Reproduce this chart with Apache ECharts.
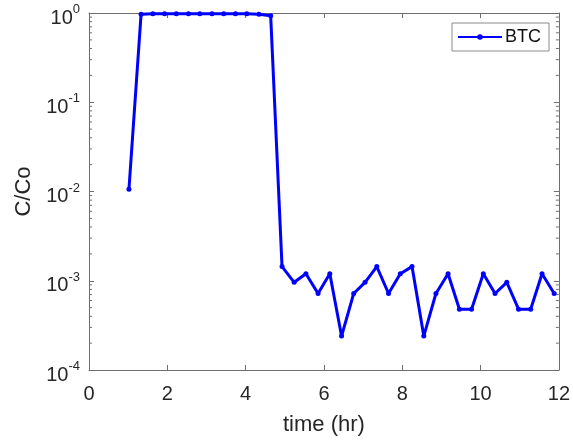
<!DOCTYPE html>
<html>
<head>
<meta charset="utf-8">
<script src="https://cdn.jsdelivr.net/npm/echarts@6/dist/echarts.min.js"></script>
<style>
html,body{margin:0;padding:0;background:#fff;}
#chart{width:573px;height:441px;}
</style>
</head>
<body>
<div id="chart"></div>
<script>
// time (hr)
var times = [1.02, 1.33, 1.63, 1.93, 2.23, 2.54, 2.83, 3.14, 3.44, 3.74, 4.03, 4.34, 4.64,
  4.93, 5.24, 5.54, 5.85, 6.15, 6.45, 6.76, 7.05, 7.35, 7.65, 7.95, 8.25, 8.55,
  8.86, 9.17, 9.46, 9.77, 10.07, 10.37, 10.67, 10.97, 11.28, 11.57, 11.88];
// C/Co
var btc = [0.0106, 0.97, 0.98, 0.98, 0.98, 0.98, 0.98, 0.98, 0.98, 0.98, 0.98, 0.97, 0.93,
  0.00144, 0.00096, 0.0012, 0.00072, 0.0012, 0.00024, 0.00072, 0.00096, 0.00144, 0.00072,
  0.0012, 0.00144, 0.00024, 0.00072, 0.0012, 0.00048, 0.00048, 0.0012, 0.00072, 0.00096,
  0.00048, 0.00048, 0.0012, 0.00072];
var seriesName = 'BTC';
var xTicks = [0, 2, 4, 6, 8, 10, 12];
var yMin = 1e-4, yMax = 1;
var minorMantissas = [2, 3, 4, 5, 6, 7, 8, 9];
var decades = [1e-4, 1e-3, 1e-2, 1e-1];

var FONT = "'Liberation Sans', Arial, Helvetica, sans-serif";
var AX = '#6e6e6e';
var TXT = '#262626';

var lineData = times.map(function (t, i) { return [t, btc[i]]; });
var minorData = [];
decades.forEach(function (d) {
  minorMantissas.forEach(function (m) { minorData.push([xTicks[0], m * d]); });
});

var chart = echarts.init(document.getElementById('chart'), null, {renderer: 'canvas'});

function supLabel(v) {
  var e = Math.round(Math.log10(v));
  return '{b|10}{s|' + e + '}';
}

var option = {
  backgroundColor: '#fff',
  animation: false,
  textStyle: {fontFamily: FONT},
  grid: {left: 89, right: 14, top: 13, bottom: 69, containLabel: false},
  legend: {
    data: [seriesName],
    right: 24, top: 23,
    orient: 'vertical',
    backgroundColor: '#fff',
    borderColor: '#8a8a8a', borderWidth: 1, borderRadius: 0,
    padding: [5, 8, 5, 5],
    itemWidth: 44, itemHeight: 7, itemGap: 0,
    textStyle: {fontFamily: FONT, fontSize: 18, color: '#111', padding: [0, 0, 0, -2]}
  },
  xAxis: [{
    type: 'value', min: 0, max: 12, interval: 2,
    name: 'time (hr)', nameLocation: 'middle', nameGap: 44,
    nameTextStyle: {fontFamily: FONT, fontSize: 22, color: TXT},
    axisLine: {show: true, onZero: false, lineStyle: {color: AX, width: 1}},
    axisTick: {show: true, inside: true, length: 5, lineStyle: {color: AX}},
    axisLabel: {fontFamily: FONT, fontSize: 20, color: TXT, margin: 14},
    splitLine: {show: false}
  }, {
    type: 'value', min: 0, max: 12, interval: 2, position: 'top',
    axisLine: {show: true, onZero: false, lineStyle: {color: AX, width: 1}},
    axisTick: {show: true, inside: true, length: 5, lineStyle: {color: AX}},
    axisLabel: {show: false},
    splitLine: {show: false}
  }],
  yAxis: [{
    type: 'log', logBase: 10, min: yMin, max: yMax,
    name: 'C/Co', nameLocation: 'middle', nameGap: 52, nameRotate: 90,
    nameTextStyle: {fontFamily: FONT, fontSize: 22, color: TXT},
    axisLine: {show: true, onZero: false, lineStyle: {color: AX, width: 1}},
    axisTick: {show: true, inside: true, length: 5, lineStyle: {color: AX}},
    axisLabel: {
      margin: 9, color: TXT,
      formatter: supLabel,
      rich: {
        b: {fontFamily: FONT, fontSize: 20, color: TXT, padding: [10, 0, 0, 0]},
        s: {fontFamily: FONT, fontSize: 13, color: TXT, padding: [0, 0, 7, 0]}
      }
    },
    splitLine: {show: false}
  }, {
    type: 'log', logBase: 10, min: yMin, max: yMax, position: 'right',
    axisLine: {show: true, onZero: false, lineStyle: {color: AX, width: 1}},
    axisTick: {show: true, inside: true, length: 5, lineStyle: {color: AX}},
    axisLabel: {show: false},
    splitLine: {show: false}
  }],
  series: [{
    type: 'custom',
    name: 'minorTicks',
    xAxisIndex: 0, yAxisIndex: 0,
    silent: true, clip: false,
    data: minorData,
    renderItem: function (params, api) {
      var v = api.value(1);
      var l = api.coord([xTicks[0], v]);
      var r = api.coord([xTicks[xTicks.length - 1], v]);
      var st = {stroke: AX, lineWidth: 1};
      return {
        type: 'group',
        children: [
          {type: 'line', shape: {x1: l[0], y1: l[1], x2: l[0] + 3, y2: l[1]}, style: st},
          {type: 'line', shape: {x1: r[0], y1: r[1], x2: r[0] - 3, y2: r[1]}, style: st}
        ]
      };
    },
    z: 1
  }, {
    type: 'line',
    name: seriesName,
    xAxisIndex: 0, yAxisIndex: 0,
    data: lineData,
    clip: false,
    symbol: 'circle', symbolSize: 5,
    lineStyle: {color: '#0000ff', width: 3},
    itemStyle: {color: '#0000ff'},
    z: 3
  }]
};
chart.setOption(option);
</script>
</body>
</html>
